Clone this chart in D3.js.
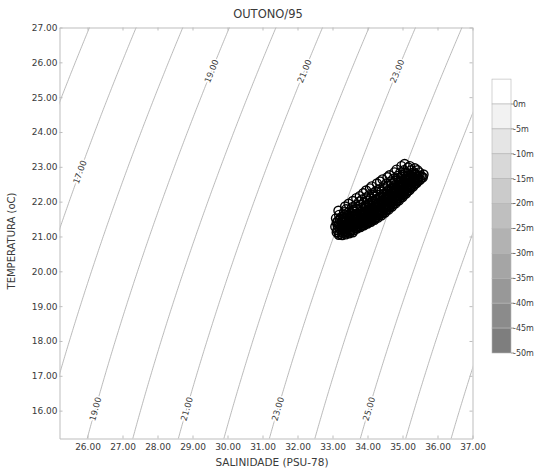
<!DOCTYPE html>
<html>
<head>
<meta charset="utf-8">
<script src="https://cdn.jsdelivr.net/npm/d3@7"></script>
<style>
  body { margin: 0; background: #fff; }
  text { font-family: "DejaVu Sans", sans-serif; }
</style>
</head>
<body>
<svg id="chart" width="538" height="470"></svg>
<script>
// ---- chart content ----
const chartTitle = "OUTONO/95";
const xTitle = "SALINIDADE (PSU-78)";
const yTitle = "TEMPERATURA (oC)";

const salinityDomain = [25.2, 37];
const temperatureDomain = [15.2, 27];
const salinityTicks = [26, 27, 28, 29, 30, 31, 32, 33, 34, 35, 36, 37];
const temperatureTicks = [16, 17, 18, 19, 20, 21, 22, 23, 24, 25, 26, 27];

// sigma-t isopycnals and which of them carry labels
const isopycnalLevels = [16, 17, 18, 19, 20, 21, 22, 23, 24, 25, 26, 27];
const upperLabelLevels = [17, 19, 21, 23];
const lowerLabelLevels = [19, 21, 23, 25];

// depth legend
const depthTicks = [0, -5, -10, -15, -20, -25, -30, -35, -40, -45, -50];

// CTD samples: [salinity, temperature]
const tsSamples = [
  [33.08,21.28],[33.12,21.40],[33.14,21.18],[33.10,21.52],
  [33.20,21.08],[33.22,21.22],[33.18,21.36],[33.21,21.48],[33.19,21.62],[33.17,21.74],
  [33.30,21.10],[33.28,21.20],[33.32,21.31],[33.29,21.44],[33.31,21.57],[33.33,21.70],[33.36,21.86],
  [33.40,21.12],[33.42,21.24],[33.38,21.35],[33.41,21.47],[33.44,21.60],[33.39,21.78],[33.46,21.94],
  [33.50,21.15],[33.52,21.26],[33.48,21.38],[33.51,21.50],[33.54,21.66],[33.56,21.84],[33.58,22.02],
  [33.60,21.18],[33.62,21.30],[33.59,21.42],[33.63,21.55],[33.61,21.71],[33.66,21.90],[33.68,22.10],
  [33.70,21.23],[33.72,21.35],[33.69,21.48],[33.73,21.62],[33.71,21.78],[33.76,22.00],[33.78,22.16],
  [33.80,21.27],[33.82,21.39],[33.79,21.52],[33.83,21.66],[33.85,21.84],[33.84,22.06],[33.88,22.24],
  [33.90,21.32],[33.92,21.45],[33.89,21.58],[33.93,21.72],[33.95,21.90],[33.97,22.12],[33.96,22.32],
  [34.00,21.37],[34.02,21.50],[33.99,21.63],[34.03,21.78],[34.05,21.96],[34.04,22.18],[34.07,22.38],
  [34.10,21.42],[34.12,21.55],[34.09,21.69],[34.13,21.84],[34.15,22.02],[34.16,22.24],[34.12,22.44],
  [34.20,21.48],[34.22,21.61],[34.19,21.75],[34.23,21.90],[34.25,22.08],[34.24,22.30],[34.27,22.52],
  [34.30,21.54],[34.32,21.67],[34.29,21.82],[34.33,21.97],[34.35,22.14],[34.34,22.36],[34.36,22.58],
  [34.40,21.61],[34.42,21.74],[34.39,21.89],[34.43,22.04],[34.45,22.22],[34.46,22.44],[34.43,22.64],
  [34.50,21.69],[34.52,21.82],[34.49,21.97],[34.53,22.12],[34.55,22.30],[34.54,22.52],[34.57,22.70],
  [34.60,21.77],[34.62,21.90],[34.59,22.05],[34.63,22.20],[34.65,22.38],[34.66,22.58],[34.63,22.76],
  [34.70,21.86],[34.72,21.99],[34.69,22.14],[34.73,22.29],[34.75,22.46],[34.74,22.66],[34.77,22.84],
  [34.80,21.95],[34.82,22.08],[34.79,22.23],[34.83,22.38],[34.85,22.55],[34.86,22.74],[34.83,22.92],
  [34.90,22.04],[34.92,22.17],[34.89,22.32],[34.93,22.47],[34.95,22.64],[34.94,22.84],[34.97,23.02],
  [35.00,22.13],[35.02,22.26],[34.99,22.41],[35.03,22.56],[35.05,22.72],[35.04,22.90],[35.06,23.08],
  [35.10,22.23],[35.12,22.36],[35.09,22.50],[35.13,22.64],[35.15,22.80],[35.16,22.98],
  [35.20,22.33],[35.22,22.46],[35.19,22.60],[35.23,22.74],[35.25,22.90],[35.21,23.02],
  [35.30,22.43],[35.32,22.56],[35.29,22.70],[35.33,22.84],[35.35,22.96],
  [35.40,22.53],[35.42,22.66],[35.39,22.78],[35.43,22.90],
  [35.50,22.63],[35.52,22.74],[35.48,22.84],
  [35.58,22.70],[35.60,22.78],
  [33.15,21.30],[33.16,21.45],[33.25,21.14],[33.25,21.27],[33.26,21.40],[33.24,21.55],
  [33.35,21.16],[33.35,21.28],[33.36,21.40],[33.34,21.52],[33.35,21.64],
  [33.45,21.18],[33.46,21.30],[33.45,21.42],[33.47,21.54],[33.48,21.72],
  [33.55,21.20],[33.56,21.32],[33.55,21.44],[33.57,21.58],[33.58,21.75],
  [33.65,21.24],[33.66,21.36],[33.65,21.49],[33.67,21.63],[33.68,21.80],
  [33.75,21.28],[33.76,21.41],[33.75,21.55],[33.77,21.70],[33.79,21.90],
  [33.85,21.33],[33.86,21.46],[33.85,21.60],[33.87,21.75],[33.89,21.96],
  [33.95,21.38],[33.96,21.51],[33.95,21.66],[33.97,21.82],[33.99,22.02],
  [34.05,21.43],[34.06,21.57],[34.05,21.72],[34.07,21.88],[34.09,22.08],
  [34.15,21.49],[34.16,21.63],[34.15,21.78],[34.17,21.94],[34.19,22.14],
  [34.25,21.55],[34.26,21.69],[34.25,21.84],[34.27,22.00],[34.29,22.20],
  [34.35,21.62],[34.36,21.76],[34.35,21.91],[34.37,22.07],[34.39,22.28],
  [34.45,21.69],[34.46,21.83],[34.45,21.98],[34.47,22.14],[34.49,22.36],
  [34.55,21.77],[34.56,21.91],[34.55,22.06],[34.57,22.22],[34.59,22.44],
  [34.65,21.86],[34.66,22.00],[34.65,22.15],[34.67,22.31],[34.69,22.52],
  [34.75,21.95],[34.76,22.09],[34.75,22.24],[34.77,22.40],[34.79,22.60],
  [34.85,22.04],[34.86,22.18],[34.85,22.33],[34.87,22.49],[34.89,22.68],
  [34.95,22.13],[34.96,22.27],[34.95,22.42],[34.97,22.58],[34.99,22.76],
  [35.05,22.22],[35.06,22.36],[35.05,22.50],[35.07,22.66],[35.09,22.84],
  [35.15,22.32],[35.16,22.46],[35.15,22.60],[35.17,22.74],
  [35.25,22.42],[35.26,22.56],[35.25,22.70],[35.27,22.82],
  [35.35,22.52],[35.36,22.66],[35.35,22.78],
  [35.45,22.62],[35.46,22.74],[35.55,22.70],
  [33.12,21.12],[33.18,21.05],[33.28,21.04],[33.38,21.06],[33.48,21.09],[33.58,21.12],
  [33.22,21.32],[33.32,21.22],[33.42,21.36],[33.52,21.34],[33.62,21.38],
  [33.30,21.50],[33.40,21.55],[33.50,21.58],[33.60,21.62],
  [33.72,21.28],[33.74,21.44],[33.70,21.58],
  [33.82,21.32],[33.84,21.49],[33.80,21.63],
  [33.92,21.37],[33.94,21.54],[33.90,21.68],
  [34.02,21.42],[34.04,21.60],[34.00,21.74],
  [34.12,21.47],[34.14,21.66],[34.10,21.80],
  [34.22,21.53],[34.24,21.72],[34.20,21.86],
  [34.32,21.60],[34.34,21.79],[34.30,21.93],
  [34.42,21.67],[34.44,21.86],[34.40,22.00],
  [34.52,21.75],[34.54,21.94],[34.50,22.08],
  [34.62,21.83],[34.64,22.02],[34.60,22.16],
  [34.72,21.92],[34.74,22.11],[34.70,22.25],
  [34.82,22.01],[34.84,22.20],[34.80,22.34],
  [34.92,22.10],[34.94,22.29],[34.90,22.43],
  [35.02,22.19],[35.04,22.38],[35.00,22.52],
  [35.12,22.29],[35.14,22.48],[35.10,22.62],
  [35.22,22.39],[35.24,22.58],[35.20,22.70],
  [35.32,22.49],[35.34,22.66],
  [35.42,22.58],[35.44,22.70]
];

// ---- layout ----
const plot = { left: 59.5, right: 472.5, top: 27.5, bottom: 438.5 };
const textColor = "#3a3a3a";
const frameColor = "#bdbdbd";

const svg = d3.select("#chart");
const x = d3.scaleLinear().domain(salinityDomain).range([plot.left, plot.right]);
const y = d3.scaleLinear().domain(temperatureDomain).range([plot.bottom, plot.top]);
const fmt = d3.format(".2f");

// UNESCO 1980 equation of state at the surface, returned as sigma-t
function sigmaT(S, T) {
  const rw = 999.842594 + 6.793952e-2 * T - 9.095290e-3 * T * T + 1.001685e-4 * T ** 3
           - 1.120083e-6 * T ** 4 + 6.536332e-9 * T ** 5;
  const B = 0.824493 - 4.0899e-3 * T + 7.6438e-5 * T * T - 8.2467e-7 * T ** 3 + 5.3875e-9 * T ** 4;
  const C = -5.72466e-3 + 1.0227e-4 * T - 1.6546e-6 * T * T;
  return rw + B * S + C * S ** 1.5 + 4.8314e-4 * S * S - 1000;
}
// salinity where the isopycnal `sigma` crosses temperature T
function salinityAt(sigma, T) {
  let lo = 0, hi = 60;
  for (let i = 0; i < 60; i++) {
    const mid = (lo + hi) / 2;
    if (sigmaT(mid, T) < sigma) lo = mid; else hi = mid;
  }
  return (lo + hi) / 2;
}

svg.append("clipPath").attr("id", "plot-clip")
  .append("rect")
  .attr("x", plot.left).attr("y", plot.top)
  .attr("width", plot.right - plot.left).attr("height", plot.bottom - plot.top);

// isopycnals
const tempSteps = d3.range(temperatureDomain[0] - 0.5, temperatureDomain[1] + 0.5, 0.05);
const line = d3.line().x(d => x(d[0])).y(d => y(d[1]));
const iso = svg.append("g").attr("clip-path", "url(#plot-clip)");
iso.selectAll("path")
  .data(isopycnalLevels)
  .join("path")
  .attr("d", lev => line(tempSteps.map(t => [salinityAt(lev, t), t])))
  .attr("fill", "none")
  .attr("stroke", "#a8a8a8")
  .attr("stroke-width", 0.8);

// isopycnal labels, rotated along the curve
function labelAt(level, T) {
  const S = salinityAt(level, T);
  const S2 = salinityAt(level, T + 0.2);
  const px = x(S), py = y(T);
  const ang = Math.atan2(y(T + 0.2) - py, x(S2) - px) * 180 / Math.PI;
  return { level, px, py, ang };
}
const isoLabels = [
  ...upperLabelLevels.map(l => labelAt(l, l === 17 ? 22.85 : 25.75)),
  ...lowerLabelLevels.map(l => labelAt(l, 16.05))
];
svg.append("g").selectAll("text")
  .data(isoLabels)
  .join("text")
  .attr("transform", d => `translate(${d.px},${d.py}) rotate(${d.ang})`)
  .attr("text-anchor", "middle")
  .attr("dy", "0.35em")
  .attr("font-size", 8.5)
  .attr("fill", textColor)
  .attr("stroke", "#fff")
  .attr("stroke-width", 3)
  .attr("paint-order", "stroke")
  .text(d => fmt(d.level));

// frame and axes
function styleAxis(g) {
  g.select(".domain").attr("stroke", frameColor);
  g.selectAll(".tick line").attr("stroke", frameColor);
  g.selectAll(".tick text").attr("fill", textColor).attr("font-size", 9)
    .attr("font-family", "DejaVu Sans, sans-serif");
}
svg.append("g").attr("transform", `translate(0,${plot.bottom})`)
  .call(d3.axisBottom(x).tickValues(salinityTicks).tickFormat(fmt)
    .tickSizeInner(-3).tickSizeOuter(0).tickPadding(5))
  .call(styleAxis);
svg.append("g").attr("transform", `translate(0,${plot.top})`)
  .call(d3.axisTop(x).tickValues(salinityTicks).tickFormat("")
    .tickSizeInner(-3).tickSizeOuter(0))
  .call(styleAxis);
svg.append("g").attr("transform", `translate(${plot.left},0)`)
  .call(d3.axisLeft(y).tickValues(temperatureTicks).tickFormat(fmt)
    .tickSizeInner(-3).tickSizeOuter(0).tickPadding(2))
  .call(styleAxis);
svg.append("g").attr("transform", `translate(${plot.right},0)`)
  .call(d3.axisRight(y).tickValues(temperatureTicks).tickFormat("")
    .tickSizeInner(-3).tickSizeOuter(0))
  .call(styleAxis);

// samples
svg.append("g").selectAll("circle")
  .data(tsSamples)
  .join("circle")
  .attr("cx", d => x(d[0]))
  .attr("cy", d => y(d[1]))
  .attr("r", 4.5)
  .attr("fill", "none")
  .attr("stroke", "#000")
  .attr("stroke-width", 1.4);

// titles
svg.append("text")
  .attr("x", 268).attr("y", 18)
  .attr("text-anchor", "middle").attr("font-size", 11.5).attr("fill", textColor)
  .text(chartTitle);
svg.append("text")
  .attr("x", 272).attr("y", 466)
  .attr("text-anchor", "middle").attr("font-size", 10.5).attr("fill", textColor)
  .text(xTitle);
svg.append("text")
  .attr("transform", "translate(15,241) rotate(-90)")
  .attr("text-anchor", "middle").attr("font-size", 10).attr("fill", textColor)
  .text(yTitle);

// depth legend
const depthY = d3.scaleLinear().domain([0, -50]).range([104, 353]);
const bandEdges = [5, ...depthTicks];          // top band lies above the surface tick
const bandShade = d3.scaleLinear().domain([0, bandEdges.length - 2])
  .range(["#ffffff", "#7e7e7e"]);
const legend = svg.append("g");
const barX = 492, barW = 19;
legend.selectAll("rect")
  .data(d3.pairs(bandEdges))
  .join("rect")
  .attr("x", barX)
  .attr("y", d => depthY(d[0]))
  .attr("width", barW)
  .attr("height", d => depthY(d[1]) - depthY(d[0]))
  .attr("fill", (d, i) => bandShade(i))
  .attr("stroke", "#b5b5b5")
  .attr("stroke-width", 0.6);
legend.selectAll("line")
  .data(depthTicks)
  .join("line")
  .attr("x1", barX + barW).attr("x2", barX + barW + 3)
  .attr("y1", d => depthY(d)).attr("y2", d => depthY(d))
  .attr("stroke", "#999");
legend.selectAll("text")
  .data(depthTicks)
  .join("text")
  .attr("x", barX + barW + 2)
  .attr("y", d => depthY(d))
  .attr("dy", "0.35em")
  .attr("font-size", 8)
  .attr("fill", textColor)
  .text(d => (d === 0 ? "0" : "-" + Math.abs(d)) + "m");
</script>
</body>
</html>
